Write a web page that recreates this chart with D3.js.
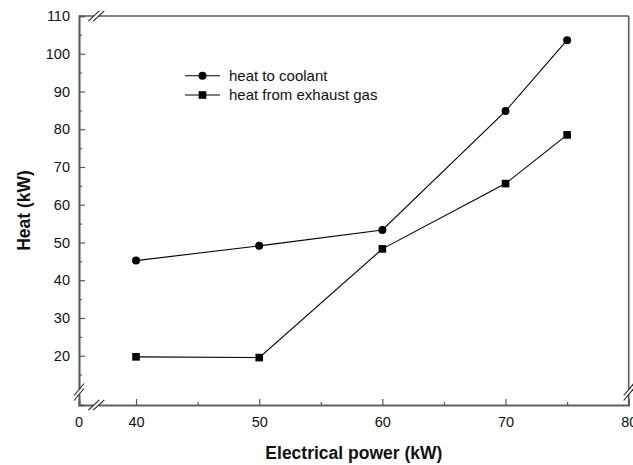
<!DOCTYPE html>
<html>
<head>
<meta charset="utf-8">
<script src="https://cdn.jsdelivr.net/npm/d3@7"></script>
<style>
  html, body { margin: 0; padding: 0; background: #fff; }
  svg { display: block; font-family: "Liberation Sans", Arial, sans-serif; }
  svg text { font-family: "Liberation Sans", Arial, sans-serif; }
</style>
</head>
<body>
<svg id="chart" width="633" height="465"></svg>
<script>
// ---- data ----
const powers = [40, 50, 60, 70, 75];
const coolantHeat = [45.2, 49.1, 53.3, 84.8, 103.6];
const exhaustHeat = [19.7, 19.5, 48.3, 65.6, 78.5];
const seriesNames = ["heat to coolant", "heat from exhaust gas"];
const xMajorTicks = [40, 50, 60, 70, 80];
const xMinorTicks = [45, 55, 65, 75];
const yMajorTicks = [20, 30, 40, 50, 60, 70, 80, 90, 100, 110];
const yMinorTicks = [15, 25, 35, 45, 55, 65, 75, 85, 95, 105];
const xBreakLabel = "0";

// ---- layout ----
const svg = d3.select("#chart");
const pL = 79, pR = 628.7, pT = 16, pB = 405;
const axisColor = "#585858";
const FONT = "'Liberation Sans', Arial, sans-serif";

const x = d3.scaleLinear().domain([35.37, 80]).range([pL, pR]);
const y = d3.scaleLinear().domain([6.94, 110]).range([pB, pT]);

// frame
const frame = svg.append("g");
frame.append("line").attr("x1", pL).attr("x2", pR).attr("y1", pT).attr("y2", pT);
frame.append("line").attr("x1", pR).attr("x2", pR).attr("y1", pT).attr("y2", pB);
frame.selectAll("line").attr("stroke", axisColor).attr("stroke-width", 1.6);

// axes
const fontTick = "14.5px";
const xAxisG = svg.append("g").attr("transform", `translate(0,${pB})`)
  .call(d3.axisBottom(x).tickValues(xMajorTicks).tickSize(-6).tickPadding(12).tickFormat(d3.format("d")));
const xMinorG = svg.append("g").attr("transform", `translate(0,${pB})`)
  .call(d3.axisBottom(x).tickValues(xMinorTicks).tickSize(-3).tickFormat(""));
const yAxisG = svg.append("g").attr("transform", `translate(${pL},0)`)
  .call(d3.axisLeft(y).tickValues(yMajorTicks).tickSize(-6).tickPadding(9).tickFormat(d3.format("d")));
const yMinorG = svg.append("g").attr("transform", `translate(${pL},0)`)
  .call(d3.axisLeft(y).tickValues(yMinorTicks).tickSize(-3).tickFormat(""));

[xAxisG, xMinorG, yAxisG, yMinorG].forEach(g => {
  g.attr("font-family", null).attr("font-size", null);
  g.select(".domain").attr("stroke", axisColor).attr("stroke-width", 1.6);
  g.selectAll(".tick line").attr("stroke", axisColor).attr("stroke-width", 1.2);
  g.selectAll(".tick text").attr("fill", "#111").style("font-size", fontTick).style("font-family", FONT);
});
// the "0" label at left end of broken x axis
xAxisG.append("text").attr("x", pL).attr("y", 12).attr("dy", "0.71em")
  .attr("text-anchor", "middle").attr("fill", "#111").style("font-size", fontTick).style("font-family", FONT)
  .text(xBreakLabel);

// axis break marks
function breakMark(cx, cy, horizontal) {
  const g = svg.append("g");
  const off = 5;
  if (horizontal) {
    g.append("rect").attr("x", cx - off / 2).attr("y", cy - 2).attr("width", off).attr("height", 4).attr("fill", "#fff");
    [-off / 2, off / 2].forEach(o => {
      g.append("line").attr("x1", cx + o - 5.5).attr("y1", cy + 5.2).attr("x2", cx + o + 5.5).attr("y2", cy - 5.2);
    });
  } else {
    g.append("rect").attr("x", cx - 2).attr("y", cy - off / 2).attr("width", 4).attr("height", off).attr("fill", "#fff");
    [-off / 2, off / 2].forEach(o => {
      g.append("line").attr("x1", cx - 5).attr("y1", cy + o + 6).attr("x2", cx + 5).attr("y2", cy + o - 6);
    });
  }
  g.selectAll("line").attr("stroke", "#222").attr("stroke-width", 1.1);
}
breakMark(96.3, pB, true);
breakMark(96.3, pT, true);
breakMark(pL, 392, false);
breakMark(pR, 392, false);

// series
const line = d3.line().x(d => x(d[0])).y(d => y(d[1]));
const coolantData = powers.map((p, i) => [p, coolantHeat[i]]);
const exhaustData = powers.map((p, i) => [p, exhaustHeat[i]]);

svg.append("path").datum(coolantData).attr("d", line).attr("fill", "none").attr("stroke", "#000").attr("stroke-width", 1.1);
svg.append("path").datum(exhaustData).attr("d", line).attr("fill", "none").attr("stroke", "#000").attr("stroke-width", 1.1);

svg.selectAll("circle.pt").data(coolantData).join("circle").attr("class", "pt")
  .attr("cx", d => x(d[0])).attr("cy", d => y(d[1])).attr("r", 4).attr("fill", "#000");
svg.selectAll("rect.pt").data(exhaustData).join("rect").attr("class", "pt")
  .attr("x", d => x(d[0]) - 3.8).attr("y", d => y(d[1]) - 3.8).attr("width", 7.6).attr("height", 7.6).attr("fill", "#000");

// legend
const legend = svg.append("g");
const legendRows = [75.7, 95];
seriesNames.forEach((name, i) => {
  const ly = legendRows[i];
  legend.append("line").attr("x1", 185).attr("x2", 220).attr("y1", ly).attr("y2", ly)
    .attr("stroke", "#000").attr("stroke-width", 1.1);
  if (i === 0) legend.append("circle").attr("cx", 202.5).attr("cy", ly).attr("r", 4).attr("fill", "#000");
  else legend.append("rect").attr("x", 198.7).attr("y", ly - 3.8).attr("width", 7.6).attr("height", 7.6).attr("fill", "#000");
  legend.append("text").attr("x", 229).attr("y", ly + 5.3).style("font-size", "15px").style("font-family", FONT)
    .attr("fill", "#111").text(name);
});

// axis titles
svg.append("text").attr("x", (pL + pR) / 2).attr("y", 459).attr("text-anchor", "middle")
  .style("font-size", "17.5px").style("font-weight", "bold").style("font-family", FONT)
  .attr("fill", "#111").text("Electrical power (kW)");
svg.append("text").attr("transform", `translate(29.5,${(pT + pB) / 2}) rotate(-90)`).attr("text-anchor", "middle")
  .style("font-size", "17.5px").style("font-weight", "bold").style("font-family", FONT)
  .attr("fill", "#111").text("Heat (kW)");
</script>
</body>
</html>
